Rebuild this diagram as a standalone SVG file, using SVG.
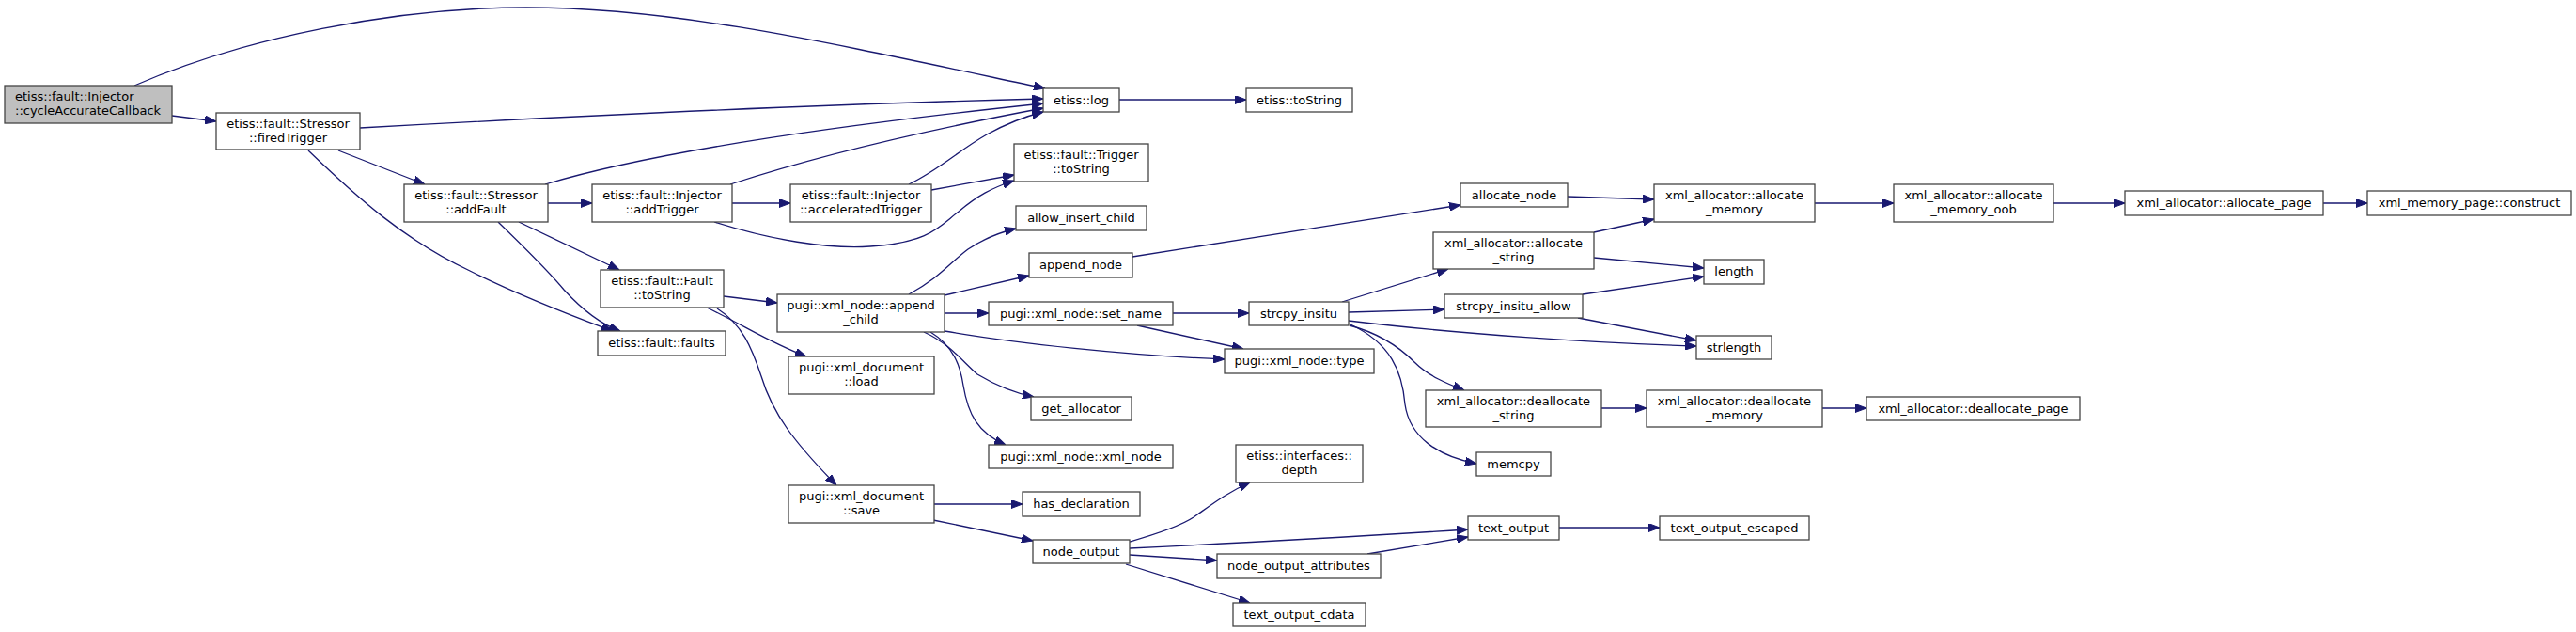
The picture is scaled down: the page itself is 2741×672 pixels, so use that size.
<svg xmlns="http://www.w3.org/2000/svg" width="2741" height="672" viewBox="0 0 2741 672">
<style>
.n rect{fill:#ffffff;stroke:#444444;stroke-width:1.3}
.n.root rect{fill:#bfbfbf}
.n text{font-family:"DejaVu Sans","Liberation Sans",sans-serif;font-size:13px;fill:#000000;text-anchor:middle}
.n.root text{text-anchor:start}
.e path{fill:none;stroke:#191970;stroke-width:1.3;marker-end:url(#arr)}
</style>
<defs>
<marker id="arr" viewBox="0 0 12 9" refX="12" refY="4.5" markerWidth="12" markerHeight="9" markerUnits="userSpaceOnUse" orient="auto">
<path d="M0,0 L12,4.5 L0,9 Z" fill="#191970" stroke="#191970" stroke-width="1"/>
</marker>
</defs>
<rect x="0" y="0" width="2741" height="672" fill="#ffffff"/>
<g id="connectors" class="e">
<path d="M143,91 C260,40 420,8 560,8 C720,8 880,45 1112,94"/>
<path d="M183,123 L230,129"/>
<path d="M383,136 C600,124 900,110 1110,105"/>
<path d="M360,160 L452,196"/>
<path d="M328,160 C380,210 430,255 500,288 C560,318 620,340 652,352"/>
<path d="M530,236 C560,265 585,290 600,308 C620,330 640,345 660,352"/>
<path d="M580,196 C700,160 900,132 1110,110"/>
<path d="M583,216 L630,216"/>
<path d="M552,236 L659,287"/>
<path d="M777,196 C850,172 950,145 1110,115"/>
<path d="M779,216 L841,216"/>
<path d="M760,236 C820,255 880,265 926,262 C990,258 1000,240 1020,225 C1040,208 1055,200 1079,192"/>
<path d="M967,196 C1000,180 1020,160 1050,143 C1070,132 1090,124 1110,119"/>
<path d="M991,202 L1079,186"/>
<path d="M1191,106 L1326,106"/>
<path d="M770,315 L827,322"/>
<path d="M752,327 C790,345 820,365 858,379"/>
<path d="M763,328 C790,345 800,370 810,400 C822,440 845,470 890,516"/>
<path d="M967,313 C1000,295 1010,280 1030,265 C1045,255 1060,248 1081,243"/>
<path d="M1005,314 L1095,293"/>
<path d="M1005,333 L1052,333"/>
<path d="M1005,352 C1080,365 1200,378 1303,382"/>
<path d="M983,353 C1010,365 1025,385 1040,398 C1060,410 1080,418 1100,422"/>
<path d="M990,353 C1015,368 1022,390 1025,410 C1030,440 1040,460 1070,473"/>
<path d="M1248,333 L1329,333"/>
<path d="M1210,346 L1323,371"/>
<path d="M1205,273 L1554,218"/>
<path d="M1428,321 L1541,286"/>
<path d="M1435,332 L1537,329"/>
<path d="M1435,341 C1550,355 1700,365 1805,368"/>
<path d="M1436,346 C1470,355 1490,370 1505,385 C1520,400 1540,408 1558,415"/>
<path d="M1437,345 C1480,365 1492,395 1495,430 C1500,465 1530,485 1571,493"/>
<path d="M1668,209 L1760,212"/>
<path d="M1696,247 L1760,233"/>
<path d="M1696,274 L1813,285"/>
<path d="M1684,313 L1813,294"/>
<path d="M1679,338 L1805,362"/>
<path d="M1931,216 L2015,216"/>
<path d="M2185,216 L2261,216"/>
<path d="M2472,216 L2519,216"/>
<path d="M1704,434 L1752,434"/>
<path d="M1939,434 L1986,434"/>
<path d="M994,536 L1088,536"/>
<path d="M993,553 L1099,575"/>
<path d="M1202,576 C1230,568 1255,560 1270,550 C1290,536 1305,524 1330,513"/>
<path d="M1202,583 C1350,576 1450,570 1562,563"/>
<path d="M1202,590 L1295,596"/>
<path d="M1198,600 L1330,641"/>
<path d="M1455,589 L1562,571"/>
<path d="M1659,561 L1766,561"/>
</g>
<g id="n_cac" class="n root"><rect x="5" y="91" width="178" height="40"/><text x="16" y="107">etiss::fault::Injector</text><text x="16" y="122">::cycleAccurateCallback</text></g>
<g id="n_fired" class="n"><rect x="230" y="120" width="153" height="39"/><text x="306.5" y="136">etiss::fault::Stressor</text><text x="306.5" y="151">::firedTrigger</text></g>
<g id="n_log" class="n"><rect x="1110" y="94" width="81" height="25"/><text x="1150.5" y="111">etiss::log</text></g>
<g id="n_tostring" class="n"><rect x="1326" y="94" width="113" height="25"/><text x="1382.5" y="111">etiss::toString</text></g>
<g id="n_addfault" class="n"><rect x="430" y="196" width="153" height="40"/><text x="506.5" y="212">etiss::fault::Stressor</text><text x="506.5" y="227">::addFault</text></g>
<g id="n_faults" class="n"><rect x="636" y="352" width="136" height="26"/><text x="704" y="369">etiss::fault::faults</text></g>
<g id="n_addtrigger" class="n"><rect x="630" y="196" width="149" height="40"/><text x="704.5" y="212">etiss::fault::Injector</text><text x="704.5" y="227">::addTrigger</text></g>
<g id="n_fault_tostring" class="n"><rect x="639" y="287" width="131" height="40"/><text x="704.5" y="303">etiss::fault::Fault</text><text x="704.5" y="318">::toString</text></g>
<g id="n_accel" class="n"><rect x="841" y="196" width="150" height="40"/><text x="916" y="212">etiss::fault::Injector</text><text x="916" y="227">::acceleratedTrigger</text></g>
<g id="n_trigger_tostring" class="n"><rect x="1079" y="153" width="143" height="40"/><text x="1150.5" y="169">etiss::fault::Trigger</text><text x="1150.5" y="184">::toString</text></g>
<g id="n_append_child" class="n"><rect x="827" y="313" width="178" height="40"/><text x="916" y="329">pugi::xml_node::append</text><text x="916" y="344">_child</text></g>
<g id="n_load" class="n"><rect x="839" y="379" width="155" height="40"/><text x="916.5" y="395">pugi::xml_document</text><text x="916.5" y="410">::load</text></g>
<g id="n_save" class="n"><rect x="839" y="516" width="155" height="40"/><text x="916.5" y="532">pugi::xml_document</text><text x="916.5" y="547">::save</text></g>
<g id="n_allow" class="n"><rect x="1081" y="219" width="139" height="26"/><text x="1150.5" y="236">allow_insert_child</text></g>
<g id="n_append_node" class="n"><rect x="1095" y="269" width="110" height="26"/><text x="1150" y="286">append_node</text></g>
<g id="n_set_name" class="n"><rect x="1052" y="321" width="196" height="25"/><text x="1150" y="338">pugi::xml_node::set_name</text></g>
<g id="n_type" class="n"><rect x="1303" y="371" width="159" height="26"/><text x="1382.5" y="388">pugi::xml_node::type</text></g>
<g id="n_get_allocator" class="n"><rect x="1097" y="422" width="107" height="25"/><text x="1150.5" y="439">get_allocator</text></g>
<g id="n_xml_node" class="n"><rect x="1052" y="473" width="196" height="25"/><text x="1150" y="490">pugi::xml_node::xml_node</text></g>
<g id="n_has_decl" class="n"><rect x="1088" y="523" width="125" height="26"/><text x="1150.5" y="540">has_declaration</text></g>
<g id="n_node_output" class="n"><rect x="1099" y="574" width="103" height="25"/><text x="1150.5" y="591">node_output</text></g>
<g id="n_depth" class="n"><rect x="1315" y="473" width="135" height="40"/><text x="1382.5" y="489">etiss::interfaces::</text><text x="1382.5" y="504">depth</text></g>
<g id="n_strcpy" class="n"><rect x="1329" y="321" width="106" height="25"/><text x="1382" y="338">strcpy_insitu</text></g>
<g id="n_noa" class="n"><rect x="1295" y="589" width="174" height="26"/><text x="1382" y="606">node_output_attributes</text></g>
<g id="n_cdata" class="n"><rect x="1312" y="641" width="141" height="25"/><text x="1382.5" y="658">text_output_cdata</text></g>
<g id="n_alloc_node" class="n"><rect x="1554" y="195" width="114" height="25"/><text x="1611" y="212">allocate_node</text></g>
<g id="n_alloc_string" class="n"><rect x="1525" y="247" width="171" height="39"/><text x="1610.5" y="263">xml_allocator::allocate</text><text x="1610.5" y="278">_string</text></g>
<g id="n_strcpy_allow" class="n"><rect x="1537" y="313" width="147" height="25"/><text x="1610.5" y="330">strcpy_insitu_allow</text></g>
<g id="n_dealloc_string" class="n"><rect x="1517" y="415" width="187" height="39"/><text x="1610.5" y="431">xml_allocator::deallocate</text><text x="1610.5" y="446">_string</text></g>
<g id="n_memcpy" class="n"><rect x="1571" y="481" width="79" height="25"/><text x="1610.5" y="498">memcpy</text></g>
<g id="n_text_output" class="n"><rect x="1562" y="549" width="97" height="25"/><text x="1610.5" y="566">text_output</text></g>
<g id="n_alloc_mem" class="n"><rect x="1760" y="196" width="171" height="40"/><text x="1845.5" y="212">xml_allocator::allocate</text><text x="1845.5" y="227">_memory</text></g>
<g id="n_length" class="n"><rect x="1813" y="276" width="64" height="26"/><text x="1845" y="293">length</text></g>
<g id="n_strlength" class="n"><rect x="1805" y="357" width="80" height="25"/><text x="1845" y="374">strlength</text></g>
<g id="n_dealloc_mem" class="n"><rect x="1752" y="415" width="187" height="39"/><text x="1845.5" y="431">xml_allocator::deallocate</text><text x="1845.5" y="446">_memory</text></g>
<g id="n_text_escaped" class="n"><rect x="1766" y="549" width="159" height="25"/><text x="1845.5" y="566">text_output_escaped</text></g>
<g id="n_oob" class="n"><rect x="2015" y="196" width="170" height="40"/><text x="2100" y="212">xml_allocator::allocate</text><text x="2100" y="227">_memory_oob</text></g>
<g id="n_dealloc_page" class="n"><rect x="1986" y="422" width="227" height="25"/><text x="2099.5" y="439">xml_allocator::deallocate_page</text></g>
<g id="n_alloc_page" class="n"><rect x="2261" y="203" width="211" height="26"/><text x="2366.5" y="220">xml_allocator::allocate_page</text></g>
<g id="n_construct" class="n"><rect x="2519" y="203" width="217" height="26"/><text x="2627.5" y="220">xml_memory_page::construct</text></g>
</svg>
